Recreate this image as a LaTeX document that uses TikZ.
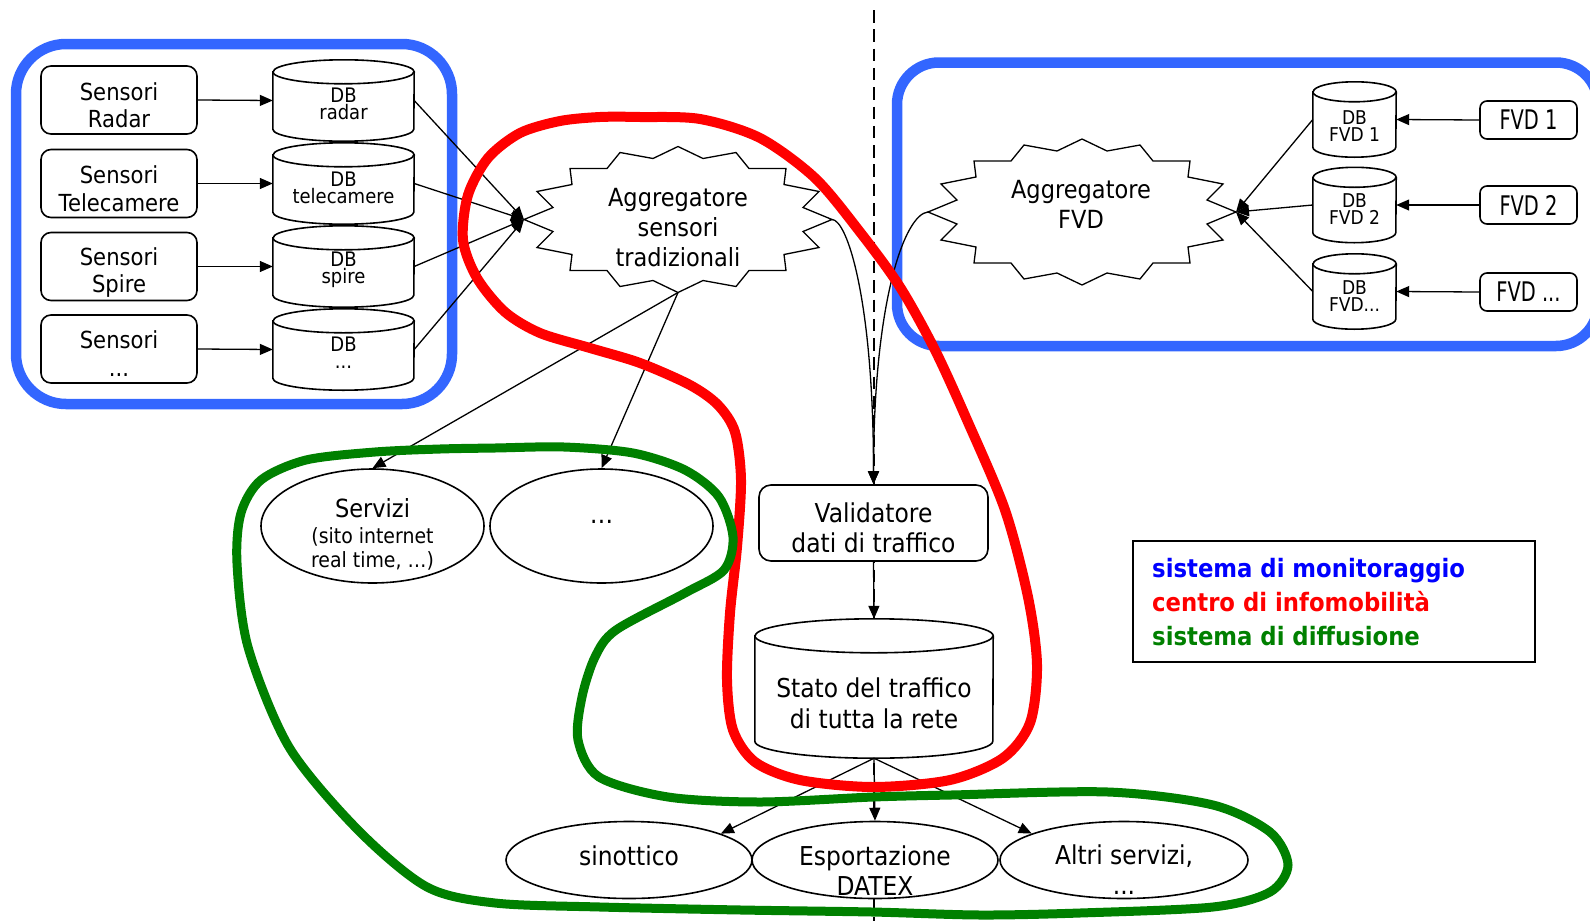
\documentclass[tikz,border=0pt]{standalone}
\usepackage{fontspec}
\usepackage{graphicx}
\setmainfont{DejaVu Sans}[FakeStretch=0.9]
\usetikzlibrary{arrows.meta,shapes.geometric,calc}
\definecolor{mblue}{RGB}{51,102,255}
\definecolor{lblue}{RGB}{0,0,255}
\definecolor{lred}{RGB}{255,0,0}
\definecolor{lgreen}{RGB}{0,128,0}
\newcommand\fsz[2]{\fontsize{#1}{#2}\selectfont}
\tikzset{
  conn/.style={line width=1.3pt,-{Triangle[length=13pt,width=11pt]}},
  sbox/.style={draw,line width=1.6pt,rounded corners=10pt,minimum width=156pt,minimum height=68pt,inner sep=0pt,fill=white},
  fbox/.style={draw,line width=1.6pt,rounded corners=7pt,minimum width=97pt,minimum height=38pt,inner sep=0pt,fill=white},
  cylline/.style={line width=1.6pt},
  txt/.style={inner sep=0pt,align=center},
  ell/.style={draw,ellipse,line width=1.6pt,inner sep=0pt,fill=white},
  bluebox/.style={draw=mblue,line width=10.5pt},
  redline/.style={draw=lred,line width=10pt},
  greenline/.style={draw=lgreen,line width=9pt},
  sepline/.style={line width=1.6pt,dash pattern=on 12.5pt off 6.8pt},
}
\newcommand\dbcyl[6]{%
  \node[inner sep=0pt,minimum width=#4pt,minimum height=#5pt] (#1) at (#2,#3) {};
  \draw[cylline,fill=white] ([yshift=-#6pt]#1.north west) -- ([yshift=#6pt]#1.south west)
     arc[start angle=180,end angle=360,x radius=#4pt/2,y radius=#6pt]
     -- ([yshift=-#6pt]#1.north east)
     arc[start angle=0,end angle=180,x radius=#4pt/2,y radius=#6pt] -- cycle;
  \draw[cylline] ([yshift=-#6pt]#1.north west) arc[start angle=180,end angle=360,x radius=#4pt/2,y radius=#6pt];
}
\newcommand\aggstar[3]{%
  \begin{scope}[shift={(#2,#3)}]
  \draw[line width=1.3pt,fill=white] (0,-73) -- (25,-61) -- (58,-67) -- (71,-51) -- (108,-51) -- (106,-35) -- (141,-28) -- (125,-12) -- (154,0) -- (125,12) -- (141,28) -- (106,35) -- (108,51) -- (71,51) -- (58,67) -- (25,61) -- (0,73) -- (-25,61) -- (-58,67) -- (-71,51) -- (-108,51) -- (-106,35) -- (-141,28) -- (-125,12) -- (-154,0) -- (-125,-12) -- (-141,-28) -- (-106,-35) -- (-108,-51) -- (-71,-51) -- (-58,-67) -- (-25,-61) -- cycle;
  \coordinate (#1) at (0,0);
  \coordinate (#1E) at (154,0);
  \coordinate (#1W) at (-154,0);
  \coordinate (#1S) at (0,73);
  \end{scope}
}
\begin{document}
\begin{tikzpicture}[x=1pt,y=-1pt]
\useasboundingbox (0,0) rectangle (1590,921);

% separator
\coordinate (sepT) at (874,10);
\coordinate (sepB) at (874,921);
\draw[sepline] (sepT) -- (sepB);

% blue boxes
\draw[bluebox,rounded corners=50pt] (16,44) rectangle (452,404);
\draw[bluebox,rounded corners=42pt] (897,62.5) rectangle (1598,346);

% sensor boxes
\node[sbox] (sR) at (119,100) {};
\node[sbox] (sT) at (119,183.5) {};
\node[sbox] (sS) at (119,266.5) {};
\node[sbox] (sX) at (119,349) {};
\node[txt,font=\fsz{23.5}{27.5}] (tsR) at (119,105) {Sensori\\Radar};
\node[txt,font=\fsz{23.5}{27.5}] (tsT) at (119,188.5) {Sensori\\Telecamere};
\node[txt,font=\fsz{23.5}{27.5}] (tsS) at (119,272.5) {Sensori\\Spire};
\node[txt,font=\fsz{23.5}{27.5}] (tsX) at (119,353.5) {Sensori\\...};

% DB cylinders
\dbcyl{dR}{343.5}{100.5}{141}{81}{12}
\dbcyl{dT}{343.5}{183.5}{141}{81}{12}
\dbcyl{dS}{343.5}{266.5}{141}{81}{12}
\dbcyl{dX}{343.5}{349.5}{141}{81}{12}
\node[txt,font=\fsz{20}{17}] (tdR) at (343.5,104) {DB\\radar};
\node[txt,font=\fsz{20}{17}] (tdT) at (343.5,188) {DB\\telecamere};
\node[txt,font=\fsz{20}{17}] (tdS) at (343.5,270) {DB\\spire};
\node[txt,font=\fsz{20}{17}] (tdX) at (343.5,352.5) {DB\\...};

% aggregators
\aggstar{agg1}{678}{219.5}
\node[txt,font=\fsz{25}{30}] (tagg1) at (678,227.5) {Aggregatore\\sensori\\tradizionali};
\aggstar{agg2}{1082}{212}
\node[txt,font=\fsz{25}{30}] (tagg2) at (1081,204) {Aggregatore\\FVD};

% FVD side
\dbcyl{f1}{1354.5}{119.5}{83}{75}{10}
\dbcyl{f2}{1354.5}{205}{83}{75}{10}
\dbcyl{f3}{1354.5}{291.5}{83}{75}{10}
\node[txt,font=\fsz{19}{17}] (tf1) at (1354.5,126) {DB\\FVD 1};
\node[txt,font=\fsz{19}{17}] (tf2) at (1354.5,209) {DB\\FVD 2};
\node[txt,font=\fsz{19}{17}] (tf3) at (1354.5,296.5) {DB\\FVD...};
\node[fbox,font=\fsz{27}{30}] (b1) at (1528.5,120) {\scalebox{0.8}[1]{FVD 1}};
\node[fbox,font=\fsz{27}{30}] (b2) at (1528.5,205) {\scalebox{0.8}[1]{FVD 2}};
\node[fbox,font=\fsz{27}{30}] (b3) at (1528.5,292) {\scalebox{0.8}[1]{FVD ...}};

% validator and state
\node[draw,line width=1.6pt,rounded corners=12pt,minimum width=229pt,minimum height=76pt,fill=white] (val) at (873.5,523) {};
\node[txt,font=\fsz{26}{30}] (tval) at (873.5,527.5) {Validatore\\dati di traffico};
\dbcyl{stato}{874}{688.5}{238}{139}{17}
\node[txt,font=\fsz{26}{31}] (tstato) at (874,703) {Stato del traffico\\di tutta la rete};

% service ellipses
\node[ell,minimum width=223pt,minimum height=114pt] (serv) at (372.5,526) {};
\node[ell,minimum width=223pt,minimum height=114pt] (dots) at (601.5,526) {};
\node[txt,font=\fsz{25}{30},anchor=base] (tserv) at (372.5,517) {Servizi};
\node[txt,font=\fsz{21}{24.5}] (tserv2) at (372.5,549) {(sito internet\\real time, …)};
\node[txt,font=\fsz{26}{30},anchor=base] (tdots) at (601.5,523) {…};

\node[ell,minimum width=246pt,minimum height=77pt] (sin) at (629,860) {};
\node[ell,minimum width=246pt,minimum height=77pt] (dat) at (875,860) {};
\node[ell,minimum width=248pt,minimum height=77pt] (alt) at (1124,860) {};
\node[txt,font=\fsz{26}{30},anchor=base] (tsin) at (629,865) {sinottico};
\node[txt,font=\fsz{26}{30}] (tdat) at (875,871) {Esportazione\\DATEX};
\node[txt,font=\fsz{26}{30}] (talt) at (1124,870) {Altri servizi,\\...};

% legend
\node[draw,line width=1.6pt,minimum width=402pt,minimum height=121pt,inner sep=0pt] (leg) at (1334,601.5) {};
\node[anchor=base west,inner sep=0pt,font=\bfseries\fsz{25.3}{34},text=lblue] (leg1) at (1152,577) {sistema di monitoraggio};
\node[anchor=base west,inner sep=0pt,font=\bfseries\fsz{25.3}{34},text=lred] (leg2) at (1152,611) {centro di infomobilità};
\node[anchor=base west,inner sep=0pt,font=\bfseries\fsz{25.3}{34},text=lgreen] (leg3) at (1152,645) {sistema di diffusione};

% connectors
\draw[conn] (sR.east) -- (dR.west);
\draw[conn] (sT.east) -- (dT.west);
\draw[conn] (sS.east) -- (dS.west);
\draw[conn] (sX.east) -- (dX.west);
\draw[conn] (dR.east) -- (agg1W);
\draw[conn] (dT.east) -- (agg1W);
\draw[conn] (dS.east) -- (agg1W);
\draw[conn] (dX.east) -- (agg1W);
\draw[conn] (agg1S) -- (serv.north);
\draw[conn] (agg1S) -- (dots.north);
\draw[conn] (b1.west) -- (f1.east);
\draw[conn] (b2.west) -- (f2.east);
\draw[conn] (b3.west) -- (f3.east);
\draw[conn] (f1.west) -- (agg2E);
\draw[conn] (f2.west) -- (agg2E);
\draw[conn] (f3.west) -- (agg2E);
\draw[conn] (agg1E) .. controls +(15,0) and +(0,-185) .. (val.north);
\draw[conn] (agg2W) .. controls +(-23,2) and +(0,-185) .. (val.north);
\draw[conn] (val.south) -- (stato.north);
\draw[conn] (stato.south) -- (sin.16);
\draw[conn] (stato.south) -- (dat.north);
\draw[conn] (stato.south) -- (alt.164);

% red region
\draw[redline] plot[smooth cycle] coordinates {(640,117) (700,119) (760,138) (815,178) (860,232) (900,287) (935,350) (967,420) (1005,510) (1028,597) (1037,665) (1030,723) (1003,758) (950,780) (873,787) (800,780) (755,762) (733,730) (727,680) (730,613) (737,547) (741,480) (735,432) (718,405) (690,385) (640,363) (590,348) (540,333) (505,312) (477,278) (463,240) (468,195) (488,158) (520,133) (560,121) (600,117)};

% green region
\draw[greenline] plot[smooth cycle] coordinates {(306,460) (375,452) (440,449) (495,448) (564,447) (633,453) (685,470) (719,497) (733,537) (724,570) (685,593) (616,630) (595,657) (582,697) (578,740) (599,777) (668,797) (760,802) (873,797) (951,795) (1108,792) (1213,805) (1270,832) (1288,865) (1270,892) (1213,907) (1080,913) (980,915) (872,912) (741,910) (600,907) (495,903) (427,887) (358,830) (289,747) (248,647) (237,563) (241,513) (261,480)};
\end{tikzpicture}
\end{document}
